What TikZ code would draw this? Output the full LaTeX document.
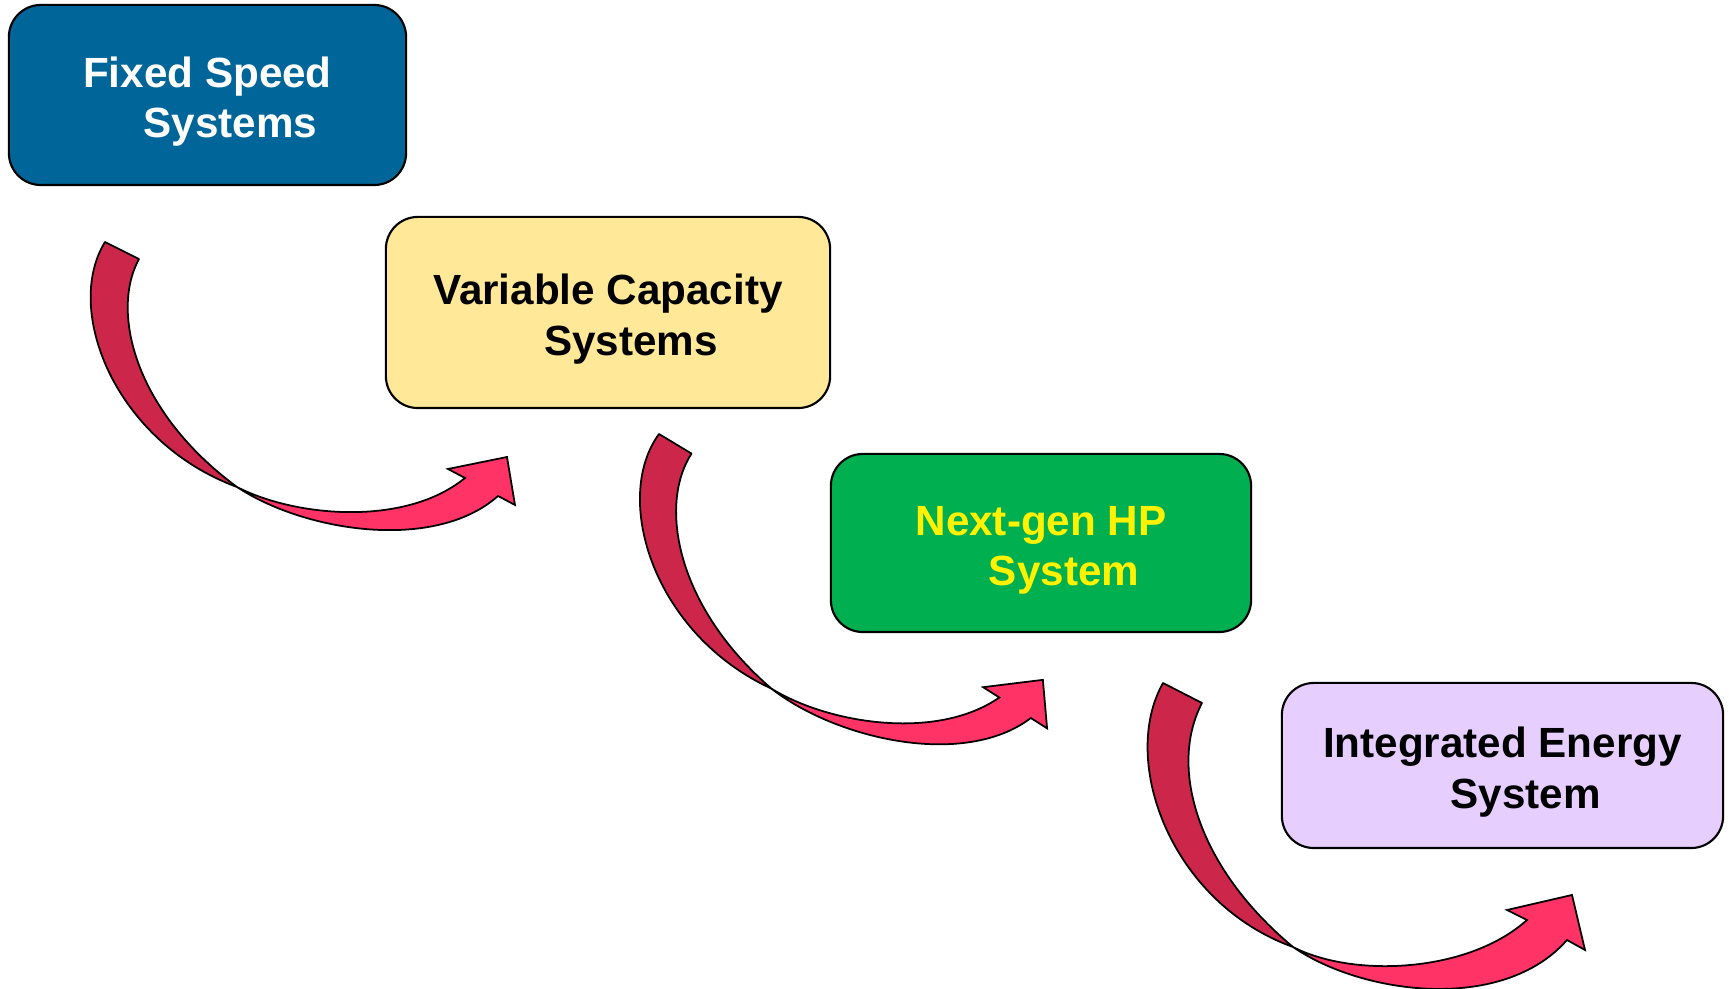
\documentclass[tikz,border=0pt]{standalone}
\usepackage{fontspec}
\setmainfont{Liberation Sans}

\definecolor{fixedblue}{RGB}{0,102,153}
\definecolor{varyellow}{RGB}{255,233,153}
\definecolor{nextgreen}{RGB}{0,176,80}
\definecolor{intlilac}{RGB}{230,206,255}
\definecolor{ribbonback}{RGB}{204,38,74}
\definecolor{ribbonfront}{RGB}{255,51,102}

% strut that lifts the first line's top so the two lines sit slightly low
\newcommand{\topstrut}{\rule{0pt}{12.5pt}}

\begin{document}
\begin{tikzpicture}[x=0.01cm, y=-0.01cm,
  stage/.style={draw=black, line width=0.6pt, rounded corners=0.32cm,
    inner sep=0pt, align=center,
    font=\fontsize{12}{14.4}\selectfont\bfseries},
  back/.style={fill=ribbonback, draw=black, line width=0.5pt, line join=round},
  front/.style={fill=ribbonfront, draw=black, line width=0.5pt, line join=miter}]

\useasboundingbox (0,0) rectangle (1729,989);

% stage boxes
\node[stage, fill=fixedblue, text=white, minimum width=3.97cm, minimum height=1.80cm]
  (fixed) at (207.5,95) {\topstrut Fixed Speed\\\hspace*{0.46cm}Systems};
\node[stage, fill=varyellow, text=black, minimum width=4.44cm, minimum height=1.91cm]
  (variable) at (608,312.5) {\topstrut Variable Capacity\\\hspace*{0.46cm}Systems};
\node[stage, fill=nextgreen, text=yellow, minimum width=4.20cm, minimum height=1.78cm]
  (nextgen) at (1041,543) {\topstrut Next-gen HP\\\hspace*{0.46cm}System};
\node[stage, fill=intlilac, text=black, minimum width=4.41cm, minimum height=1.65cm]
  (integrated) at (1502.5,765.5) {\topstrut Integrated Energy\\\hspace*{0.46cm}System};

% twisted ribbon arrow: fixed -> variable
\begin{scope}[shift={(105,242)}]
  \filldraw[back] (0,0) .. controls (-42,68) and (10,200) .. (132,245)
    .. controls (30,170) and (5,70) .. (34,17) -- cycle;
  \filldraw[front] (132,245) .. controls (200,290) and (330,310) .. (393,254)
    -- (410,263) -- (402,215) -- (343,227) -- (360,236)
    .. controls (300,285) and (190,275) .. (132,245) -- cycle;
\end{scope}

% twisted ribbon arrow: variable -> next-gen
\begin{scope}[shift={(659,434)}, rotate=-4.5]
  \filldraw[back] (0,0) .. controls (-42,68) and (10,200) .. (132,245)
    .. controls (30,170) and (5,70) .. (34,17) -- cycle;
  \filldraw[front] (132,245) .. controls (200,290) and (330,310) .. (393,254)
    -- (410,263) -- (402,215) -- (343,227) -- (360,236)
    .. controls (300,285) and (190,275) .. (132,245) -- cycle;
\end{scope}

% twisted ribbon arrow: next-gen -> integrated
\begin{scope}[shift={(1163,683)}]
  \filldraw[back] (0,0) .. controls (-44,78) and (8,220) .. (130,264)
    .. controls (35,185) and (5,85) .. (39,20) -- cycle;
  \filldraw[front] (130,264) .. controls (200,312) and (340,330) .. (404,257)
    -- (422,267) -- (409,212) -- (344,227) -- (364,237)
    .. controls (305,290) and (190,295) .. (130,264) -- cycle;
\end{scope}

\end{tikzpicture}
\end{document}
